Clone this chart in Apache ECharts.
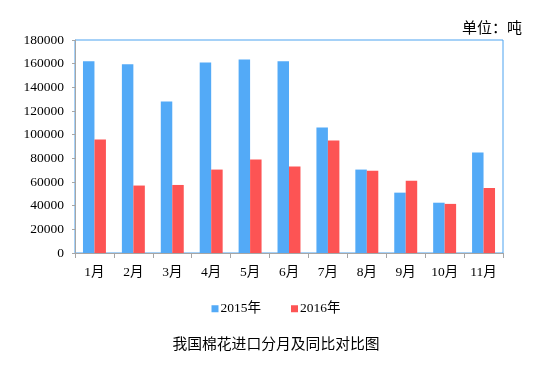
<!DOCTYPE html>
<html><head><meta charset="utf-8">
<script src="https://cdn.jsdelivr.net/npm/echarts@6/dist/echarts.min.js"></script>
<style>html,body{margin:0;padding:0;background:#fff;}#c{width:552px;height:367px;}</style>
</head><body><div id="c"></div>
<script>
var categories = ['1月','2月','3月','4月','5月','6月','7月','8月','9月','10月','11月'];
var series2015 = [162000,159500,128000,161000,163500,162000,106000,70500,51000,42500,85000];
var series2016 = [96000,57000,57500,70500,79000,73000,95000,69500,61000,41500,55000];
var seriesNames = ['2015年','2016年'];
var titleText = '我国棉花进口分月及同比对比图';
var unitText = '单位：吨';

var serif = "'Liberation Serif','Noto Sans CJK SC',serif";
var chart = echarts.init(document.getElementById('c'));
chart.setOption({
  animation:false,
  backgroundColor:'#fff',
  title:[
    {text:titleText, left:'center', top:333, textStyle:{fontFamily:serif, fontSize:14.8, fontWeight:'normal', color:'#000'}},
    {text:unitText, left:457, top:17, textStyle:{fontFamily:serif, fontSize:15, fontWeight:'normal', color:'#000'}}
  ],
  legend:{
    data:seriesNames, top:297, left:'center', itemWidth:7, itemHeight:7, itemGap:30,
    icon:'rect',
    textStyle:{fontFamily:serif, fontSize:13.5, color:'#000', padding:[0,0,0,-3]}
  },
  grid:{left:75, top:40, right:49, bottom:114, show:true, borderColor:'#4da3f0', borderWidth:1},
  xAxis:{
    type:'category', data:categories,
    axisLine:{lineStyle:{color:'#a6a6a6'}},
    axisTick:{show:true, interval:0, length:5, lineStyle:{color:'#a6a6a6'}},
    axisLabel:{fontFamily:serif, fontSize:13.5, color:'#000', margin:13, interval:0}
  },
  yAxis:{
    type:'value', min:0, max:180000, interval:20000,
    axisLine:{show:true, lineStyle:{color:'#a6a6a6'}},
    axisTick:{show:true, length:3, lineStyle:{color:'#a6a6a6'}},
    splitLine:{show:false},
    axisLabel:{fontFamily:serif, fontSize:13.5, color:'#000', margin:11, formatter:function(v){return String(v);}}
  },
  series:[
    {name:seriesNames[0], type:'bar', data:series2015, barGap:'0%', barCategoryGap:'41%', itemStyle:{color:'#53aaf7'}},
    {name:seriesNames[1], type:'bar', data:series2016, itemStyle:{color:'#fd5454'}}
  ]
});
</script></body></html>
